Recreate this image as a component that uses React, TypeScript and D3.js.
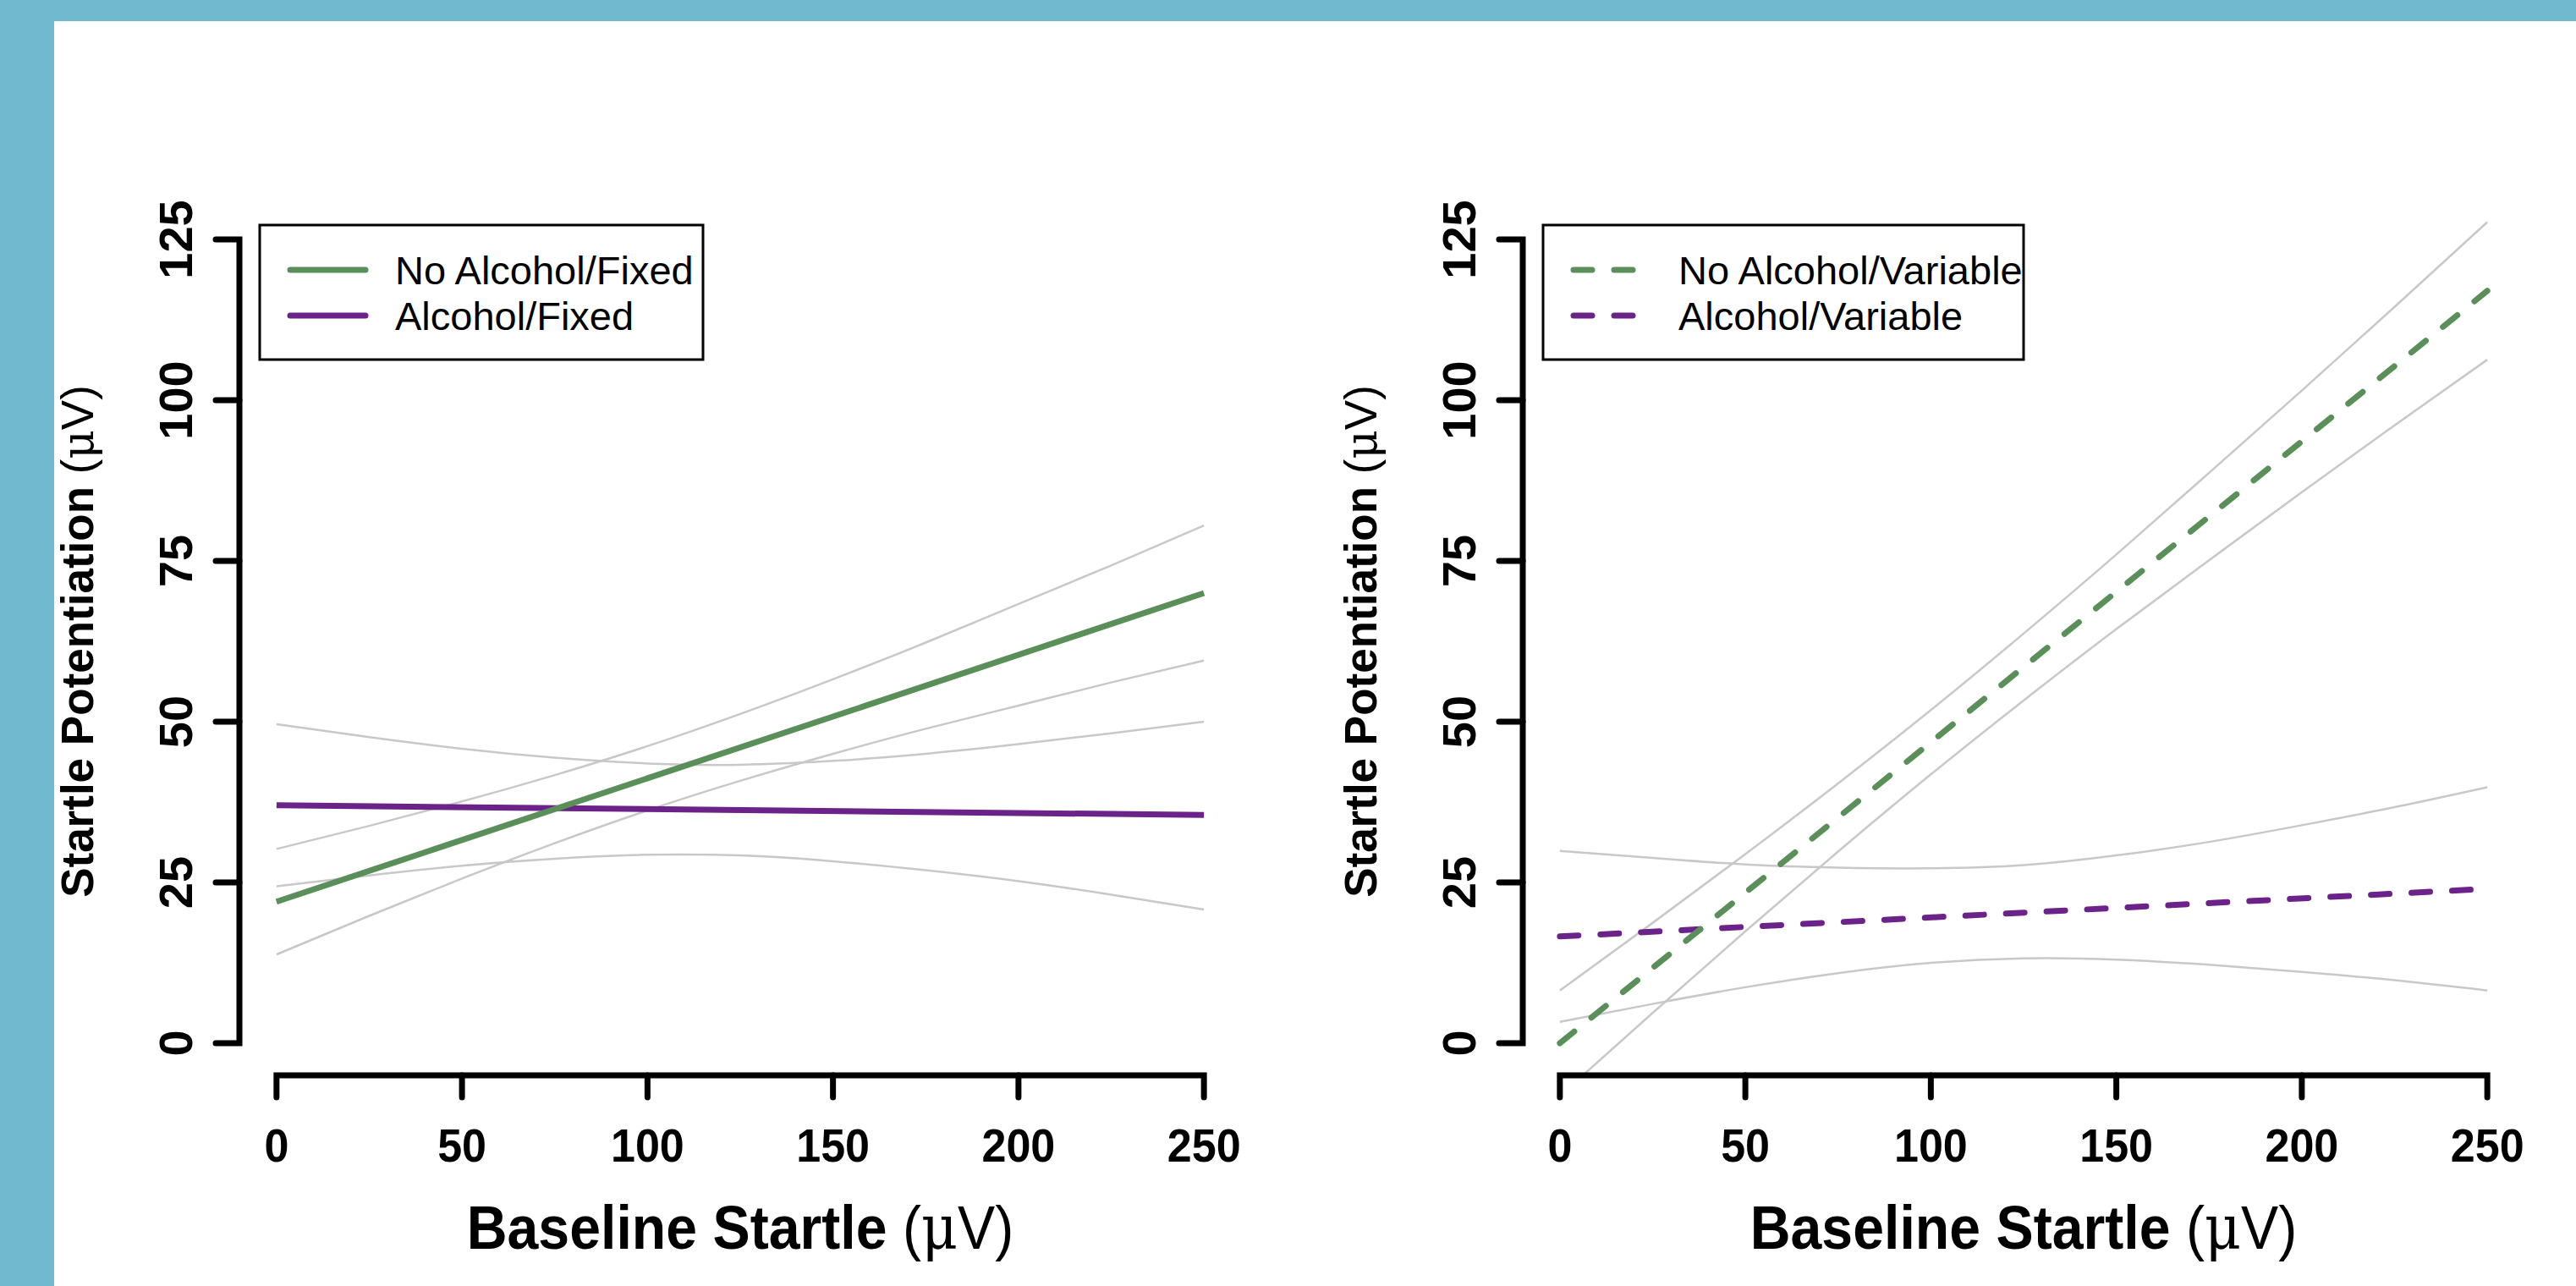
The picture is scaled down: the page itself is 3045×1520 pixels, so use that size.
import React from "react";
import * as d3 from "d3";

// ---------- data ----------
const xTicks = [0, 50, 100, 150, 200, 250];
const yTicks = [0, 25, 50, 75, 100, 125];
const fitX = [0, 250];
const ciX = [0, 25, 50, 75, 100, 125, 150, 175, 200, 225, 250];

// Left panel: Fixed
const noAlcFixed = [22, 70];
const alcFixed = [37, 35.5];
const noAlcFixedUpper = [30.2, 33.8, 37.6, 41.7, 46.2, 51.2, 56.6, 62.3, 68.3, 74.3, 80.5];
const noAlcFixedLower = [13.8, 19.8, 25.6, 31.1, 36.2, 40.8, 45.0, 48.9, 52.5, 56.1, 59.5];
const alcFixedUpper = [49.6, 47.6, 45.8, 44.4, 43.5, 43.3, 43.9, 45.0, 46.5, 48.2, 50.0];
const alcFixedLower = [24.4, 26.1, 27.6, 28.7, 29.3, 29.2, 28.3, 26.9, 25.2, 23.1, 20.8];

// Right panel: Variable
const noAlcVariable = [0, 117];
const alcVariable = [16.6, 24];
const noAlcVariableUpper = [8.2, 18.7, 29.4, 40.4, 51.8, 63.7, 76.0, 88.7, 101.5, 114.5, 127.7];
const noAlcVariableLower = [-8.2, 4.7, 17.4, 29.8, 41.8, 53.3, 64.4, 75.1, 85.7, 96.1, 106.3];
const alcVariableUpper = [29.9, 28.8, 27.8, 27.3, 27.2, 27.7, 29.2, 31.3, 33.9, 36.7, 39.8];
const alcVariableLower = [3.3, 6.1, 8.7, 10.9, 12.5, 13.2, 13.0, 12.2, 11.1, 9.8, 8.2];

const leftLegend = ["No Alcohol/Fixed", "Alcohol/Fixed"];
const rightLegend = ["No Alcohol/Variable", "Alcohol/Variable"];

// ---------- styling ----------
const W = 3045;
const H = 1520;
const GREEN = "#5A8F5A";
const PURPLE = "#6B2289";
const GRAY = "#C8C8C8";
const BG = "#70B9CF";
const FONT = "'Liberation Sans', Arial, Helvetica, sans-serif";
const DASH = "22 26";

const PLOT_L = 283;
const PLOT_R = 1467;
const PLOT_T = 245;
const PLOT_B = 1271;
const PANEL_OFFSET = 1517;

type Series = { xs: number[]; ys: number[]; color: string; width: number; dash?: string };

function Panel({
  off,
  id,
  series,
  legend,
  legendW,
  dashed,
}: {
  off: number;
  id: string;
  series: Series[];
  legend: string[];
  legendW: number;
  dashed: boolean;
}) {
  const x = d3.scaleLinear().domain([-10, 260]).range([PLOT_L + off, PLOT_R + off]);
  const y = d3.scaleLinear().domain([-5, 130]).range([PLOT_B, PLOT_T]);

  const line = (xs: number[], ys: number[]) =>
    d3
      .line<number>()
      .x((_, i) => x(xs[i]))
      .y((d) => y(d))
      .curve(xs.length > 2 ? d3.curveNatural : d3.curveLinear)(ys) || "";

  const axX0 = x(xTicks[0]);
  const axX1 = x(xTicks[xTicks.length - 1]);
  const axY0 = y(yTicks[0]);
  const axY1 = y(yTicks[yTicks.length - 1]);
  const yAxisX = PLOT_L + off;
  const xAxisY = PLOT_B;
  const tickLenY = 28;
  const tickLenX = 26;

  const legendX = 307 + off;
  const legendY = 266;
  const legendLineY = [319, 373];
  const legendColors = [GREEN, PURPLE];

  return (
    <g>
      <defs>
        <clipPath id={id}>
          <rect x={PLOT_L + off} y={PLOT_T} width={PLOT_R - PLOT_L} height={PLOT_B - PLOT_T} />
        </clipPath>
      </defs>
      <g clipPath={`url(#${id})`}>
        {series.map((s, i) => (
          <path
            key={i}
            d={line(s.xs, s.ys)}
            fill="none"
            stroke={s.color}
            strokeWidth={s.width}
            strokeDasharray={s.dash}
            strokeLinecap={s.dash ? "round" : "butt"}
          />
        ))}
      </g>

      {/* Y axis */}
      <path
        d={`M${yAxisX - tickLenY},${axY1} H${yAxisX} V${axY0} H${yAxisX - tickLenY}`}
        fill="none"
        stroke="#000"
        strokeWidth={7}
        strokeLinejoin="miter"
        strokeLinecap="round"
      />
      {yTicks.slice(1, -1).map((t) => (
        <line key={t} x1={yAxisX - tickLenY} x2={yAxisX} y1={y(t)} y2={y(t)} stroke="#000" strokeWidth={7} strokeLinecap="round" />
      ))}
      {yTicks.map((t) => (
        <text
          key={t}
          transform={`translate(${227 + off},${y(t)}) rotate(-90)`}
          textAnchor="middle"
          fontFamily={FONT}
          fontWeight="bold"
          fontSize={56}
        >
          {t}
        </text>
      ))}

      {/* X axis */}
      <path
        d={`M${axX0},${xAxisY + tickLenX} V${xAxisY} H${axX1} V${xAxisY + tickLenX}`}
        fill="none"
        stroke="#000"
        strokeWidth={7}
        strokeLinejoin="miter"
        strokeLinecap="round"
      />
      {xTicks.slice(1, -1).map((t) => (
        <line key={t} x1={x(t)} x2={x(t)} y1={xAxisY} y2={xAxisY + tickLenX} stroke="#000" strokeWidth={7} strokeLinecap="round" />
      ))}
      {xTicks.map((t) => (
        <text
          key={t}
          transform={`translate(${x(t)},1373) scale(0.93,1)`}
          textAnchor="middle"
          fontFamily={FONT}
          fontWeight="bold"
          fontSize={56}
        >
          {t}
        </text>
      ))}

      {/* Axis titles */}
      <text
        transform={`translate(${(PLOT_L + PLOT_R) / 2 + off},1476) scale(0.92,1)`}
        textAnchor="middle"
        fontFamily={FONT}
        fontSize={72}
      >
        <tspan fontWeight="bold">Baseline Startle </tspan>
        <tspan>(</tspan>
        <tspan fontFamily="'DejaVu Serif', serif">μ</tspan>
        <tspan>V)</tspan>
      </text>
      <text
        transform={`translate(${110 + off},${(PLOT_T + PLOT_B) / 2}) rotate(-90)`}
        textAnchor="middle"
        fontFamily={FONT}
        fontSize={53}
      >
        <tspan fontWeight="bold">Startle Potentiation </tspan>
        <tspan>(</tspan>
        <tspan fontFamily="'DejaVu Serif', serif">μ</tspan>
        <tspan>V)</tspan>
      </text>

      {/* Legend */}
      <rect x={legendX} y={legendY} width={legendW} height={159} fill="#fff" stroke="#000" strokeWidth={3} />
      {legend.map((lab, i) => (
        <g key={lab}>
          <line
            x1={343 + off}
            x2={432 + off}
            y1={legendLineY[i]}
            y2={legendLineY[i]}
            stroke={legendColors[i]}
            strokeWidth={7}
            strokeDasharray={dashed ? DASH : undefined}
            strokeLinecap="round"
          />
          <text x={467 + off} y={legendLineY[i] + 17} fontFamily={FONT} fontSize={47}>
            {lab}
          </text>
        </g>
      ))}
    </g>
  );
}

export default function App() {
  const leftSeries: Series[] = [
    { xs: ciX, ys: noAlcFixedUpper, color: GRAY, width: 2.5 },
    { xs: ciX, ys: noAlcFixedLower, color: GRAY, width: 2.5 },
    { xs: ciX, ys: alcFixedUpper, color: GRAY, width: 2.5 },
    { xs: ciX, ys: alcFixedLower, color: GRAY, width: 2.5 },
    { xs: fitX, ys: alcFixed, color: PURPLE, width: 7 },
    { xs: fitX, ys: noAlcFixed, color: GREEN, width: 7 },
  ];
  const rightSeries: Series[] = [
    { xs: ciX, ys: noAlcVariableUpper, color: GRAY, width: 2.5 },
    { xs: ciX, ys: noAlcVariableLower, color: GRAY, width: 2.5 },
    { xs: ciX, ys: alcVariableUpper, color: GRAY, width: 2.5 },
    { xs: ciX, ys: alcVariableLower, color: GRAY, width: 2.5 },
    { xs: fitX, ys: alcVariable, color: PURPLE, width: 7, dash: DASH },
    { xs: fitX, ys: noAlcVariable, color: GREEN, width: 7, dash: DASH },
  ];
  return (
    <svg
      width={W}
      height={H}
      viewBox={`0 0 ${W} ${H}`}
      style={{ position: "fixed", left: 0, top: 0, display: "block" }}
    >
      <rect x={0} y={0} width={W} height={H} fill={BG} />
      <rect x={64} y={25} width={W - 64} height={H - 25} fill="#fff" />
      <Panel off={0} id="clipL" series={leftSeries} legend={leftLegend} legendW={524} dashed={false} />
      <Panel off={PANEL_OFFSET} id="clipR" series={rightSeries} legend={rightLegend} legendW={568} dashed={true} />
    </svg>
  );
}
